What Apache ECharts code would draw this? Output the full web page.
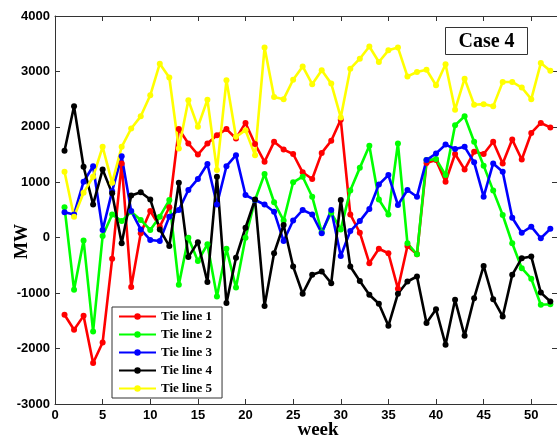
<!DOCTYPE html>
<html>
<head>
<meta charset="utf-8">
<script src="https://cdn.jsdelivr.net/npm/echarts@6/dist/echarts.min.js"></script>
<style>
  html, body { margin: 0; padding: 0; background: #fff; }
  #chart { width: 557px; height: 439px; }
</style>
</head>
<body>
<div id="chart"></div>
<script>
// Weekly tie-line power flows (MW), Case 4
const weeks = [1, 2, 3, 4, 5, 6, 7, 8, 9, 10, 11, 12, 13, 14, 15, 16, 17, 18, 19, 20, 21, 22, 23, 24, 25, 26,
  27, 28, 29, 30, 31, 32, 33, 34, 35, 36, 37, 38, 39, 40, 41, 42, 43, 44, 45, 46, 47, 48, 49, 50, 51, 52];

const tieLine1 = [-1390, -1660, -1410, -2260, -1890, -380, 1340, -890, 80, 480, 200, 550, 1960, 1700, 1500, 1700,
  1850, 1960, 1790, 2070, 1690, 1370, 1730, 1590, 1510, 1180, 1060, 1530, 1750, 2130, 420, 90, -460, -200, -280,
  -920, -150, -300, 1350, 1400, 1010, 1510, 1230, 1550, 1510, 1730, 1340, 1770, 1410, 1890, 2070, 1990];

const tieLine2 = [550, -940, -50, -1690, 30, 420, 300, 470, 320, 140, 380, 680, -850, 0, -420, -120, -1060, -200,
  -900, 0, 680, 1150, 640, 310, 1000, 1100, 740, 100, 450, 150, 850, 1260, 1660, 690, 420, 1700, -100, -300, 1400,
  1420, 1130, 2030, 2190, 1730, 1300, 850, 410, -100, -550, -740, -1210, -1200];

const tieLine3 = [460, 420, 1010, 1290, 140, 840, 1470, 480, 150, -40, -60, 380, 500, 860, 1060, 1330, 600, 1290,
  1490, 770, 680, 600, 470, -60, 310, 500, 420, 80, 500, -330, 120, 300, 520, 960, 1130, 590, 860, 740, 1400, 1520,
  1680, 1600, 1640, 1360, 740, 1340, 1190, 360, 90, 200, -10, 160];

const tieLine4 = [1570, 2370, 1280, 600, 1230, 800, -100, 760, 820, 690, 150, -150, 990, -350, -80, -800, 1100,
  -1180, -360, 180, 690, -1230, -280, 230, -520, -1010, -670, -610, -820, 680, -520, -780, -1030, -1190, -1590,
  -1010, -790, -700, -1540, -1290, -1930, -1120, -1770, -1090, -510, -1110, -1420, -670, -370, -340, -990, -1150];

const tieLine5 = [1190, 380, 810, 1100, 1640, 990, 1640, 1970, 2190, 2570, 3140, 2890, 1610, 2480, 2000, 2490,
  1220, 2840, 1820, 1940, 1490, 3430, 2540, 2500, 2850, 3090, 2770, 3020, 2780, 2170, 3050, 3230, 3450, 3170, 3380,
  3430, 2910, 2990, 3030, 2750, 3130, 2310, 2870, 2400, 2410, 2370, 2810, 2810, 2710, 2500, 3150, 3010];

const seriesNames = ['Tie line 1', 'Tie line 2', 'Tie line 3', 'Tie line 4', 'Tie line 5'];
const seriesValues = [tieLine1, tieLine2, tieLine3, tieLine4, tieLine5];
const seriesColors = ['#ff0000', '#00ff00', '#0000ff', '#000000', '#ffff00'];

const frameColor = '#333';
const tickFont = { color: '#000', fontFamily: 'Liberation Sans', fontWeight: 'bold', fontSize: 13 };

function frameAxis(position, showLabels, extra) {
  return Object.assign({
    type: 'value',
    position: position,
    axisLine: { show: true, onZero: false, lineStyle: { color: frameColor, width: 1 } },
    axisTick: { show: true, inside: true, length: 5, lineStyle: { color: frameColor } },
    axisLabel: Object.assign({
      show: showLabels,
      margin: 5,
      showMaxLabel: position === 'left' || position === 'right',
      formatter: function (v) { return String(v); }
    }, tickFont),
    splitLine: { show: false }
  }, extra);
}

const chart = echarts.init(document.getElementById('chart'), null, { renderer: 'canvas' });

chart.setOption({
  animation: false,
  backgroundColor: '#fff',
  grid: { left: 55, top: 16, width: 503, height: 388, containLabel: false },
  xAxis: [
    frameAxis('bottom', true, { min: 0, max: 52.7, interval: 5 }),
    frameAxis('top', false, { min: 0, max: 52.7, interval: 5 })
  ],
  yAxis: [
    frameAxis('left', true, { min: -3000, max: 4000, interval: 1000 }),
    frameAxis('right', false, { min: -3000, max: 4000, interval: 1000 })
  ],
  legend: {
    data: seriesNames,
    orient: 'vertical',
    left: 112,
    top: 307,
    backgroundColor: '#fff',
    borderColor: frameColor,
    borderWidth: 1,
    borderRadius: 0,
    padding: [3, 10, 3, 6],
    itemWidth: 37,
    itemHeight: 8,
    itemGap: 5,
    textStyle: { color: '#000', fontFamily: 'Liberation Serif', fontWeight: 'bold', fontSize: 13 }
  },
  graphic: [
    {
      type: 'text',
      left: 13, top: 224,
      rotation: Math.PI / 2,
      style: { text: 'MW', fill: '#000', font: 'bold 18px "Liberation Serif"' }
    },
    {
      type: 'text',
      x: 318, y: 430,
      style: {
        text: 'week', fill: '#000', font: 'bold 19px "Liberation Serif"',
        textAlign: 'center', textVerticalAlign: 'middle'
      }
    },
    {
      type: 'rect',
      shape: { x: 445.5, y: 27.5, width: 82, height: 27 },
      style: { fill: '#fff', stroke: frameColor, lineWidth: 1 }
    },
    {
      type: 'text',
      x: 486.5, y: 41.5,
      style: {
        text: 'Case 4', fill: '#000', font: 'bold 20px "Liberation Serif"',
        textAlign: 'center', textVerticalAlign: 'middle'
      }
    }
  ],
  series: seriesNames.map(function (name, i) {
    return {
      name: name,
      type: 'line',
      xAxisIndex: 0,
      yAxisIndex: 0,
      data: weeks.map(function (w, k) { return [w, seriesValues[i][k]]; }),
      symbol: 'circle',
      symbolSize: 6,
      showAllSymbol: true,
      color: seriesColors[i],
      lineStyle: { color: seriesColors[i], width: 2.6 },
      itemStyle: { color: seriesColors[i] }
    };
  })
});
</script>
</body>
</html>
